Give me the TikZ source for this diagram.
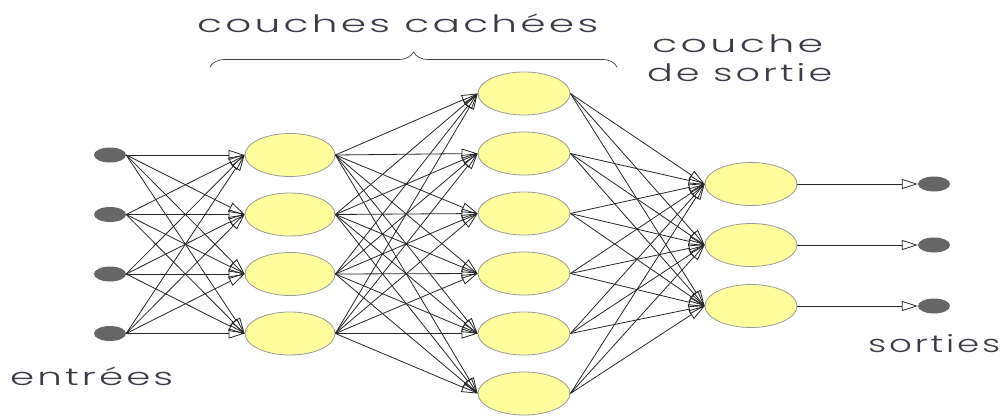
\documentclass[tikz,border=0pt]{standalone}
\usepackage{fontspec}
\setmainfont{Poppins}[UprightFont=* Light]
\usetikzlibrary{arrows.meta,shapes.geometric,decorations.pathreplacing}

\definecolor{cellfill}{HTML}{FFFF9E}
\definecolor{cellline}{HTML}{9A9A9A}
\definecolor{dotgray}{HTML}{666666}
\definecolor{labelink}{HTML}{3C3C48}

% stretch a label horizontally to a given width, keeping its height
\newcommand\widelabel[2]{\resizebox{#1}{\height}{\addfontfeature{LetterSpace=8}#2}}

\begin{document}
\begin{tikzpicture}[x=1pt,y=-1pt,
  neuron/.style={ellipse,draw=cellline,line width=0.8pt,fill=cellfill,
    minimum width=92pt,minimum height=43pt,inner sep=0pt},
  iodot/.style={ellipse,fill=dotgray,minimum width=32pt,minimum height=15pt,inner sep=0pt},
  link/.style={draw=black!85,line width=0.8pt,-{Triangle[open,length=16pt,width=10pt]}},
  lbl/.style={anchor=base west,inner sep=0pt,text=labelink,font=\fontsize{24}{24}\selectfont}]
\useasboundingbox (0,0) rectangle (1006,417);

% input dots
\foreach \i/\y in {1/155,2/214.5,3/274,4/333.5}
  \node[iodot] (in\i) at (110,\y) {};
% first hidden layer
\foreach \i/\y in {1/155,2/214.5,3/274,4/333.5}
  \node[neuron,minimum width=90pt] (a\i) at (290,\y) {};
% second hidden layer
\foreach \i/\y in {1/93.5,2/153.5,3/213.5,4/273.5,5/333.5,6/393.5}
  \node[neuron] (b\i) at (524,\y) {};
% output layer
\foreach \i/\y in {1/184,2/245,3/306}
  \node[neuron] (c\i) at (751,\y) {};
% output dots
\foreach \i/\y in {1/184,2/245,3/306}
  \node[iodot] (out\i) at (934,\y) {};

% connections
\foreach \i in {1,...,4}
  \foreach \j in {1,...,4}
    \draw[link] (in\i.east) -- (a\j.west);
\foreach \i in {1,...,4}
  \foreach \j in {1,...,6}
    \draw[link] (a\i.east) -- (b\j.west);
\foreach \i in {1,...,6}
  \foreach \j in {1,...,3}
    \draw[link] (b\i.east) -- (c\j.west);
\foreach \i in {1,...,3}
  \draw[link] (c\i.east) -- (out\i.west);

% brace over the hidden layers
\coordinate (braceL) at (210,67);
\coordinate (braceR) at (617,67);
\draw[draw=black!75,line width=0.7pt,decorate,decoration={brace,amplitude=15pt}]
  (braceL) -- (braceR);

% labels
\node[lbl] (tHidden) at (197,33) {\widelabel{401pt}{couches cachées}};
\node[lbl] (tOutA) at (652,53) {\widelabel{171pt}{couche}};
\node[lbl] (tOutB) at (647,82) {\widelabel{185pt}{de sortie}};
\node[lbl] (tOuts) at (868,352) {\widelabel{132pt}{sorties}};
\node[lbl] (tIns) at (10,385) {\widelabel{163pt}{entrées}};
\end{tikzpicture}
\end{document}
